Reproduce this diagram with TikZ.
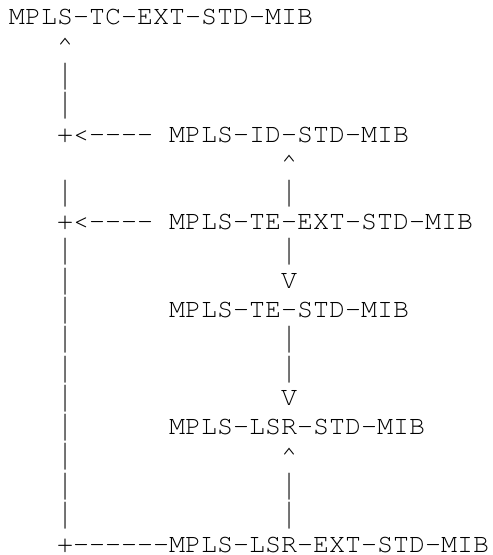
\documentclass[tikz,border=0pt]{standalone}
\usepackage{graphicx}
\usepackage{fontspec}
\newfontfamily\cour{texgyrecursor-regular.otf}[Ligatures=TeXOff]
\tikzset{
  txt/.style={anchor=base west, inner sep=0pt, outer sep=0pt, font=\cour\fontsize{26.67pt}{29pt}\selectfont, text=black}
}
% column c, row r
\newcommand\place[4]{\node[txt] (#1) at ({(9+16*#2)*1pt},{(530-29.28*#3)*1pt}) {#4};}
\newcommand\tallbar{\raisebox{-6.3pt}{\resizebox*{16pt}{26.8pt}{\raisebox{\depth}{|}}}}
\newcommand\vbar[3]{\node[txt] (#1) at ({(9+16*#2)*1pt},{(530-29.28*#3)*1pt}) {\tallbar};}
\begin{document}
\begin{tikzpicture}
\useasboundingbox (0,0) rectangle (493pt,555pt);
\place{tcext}{0}{0}{MPLS-TC-EXT-STD-MIB}
\place{a1}{3}{1}{\char94}
\vbar{a2}{3}{2}
\vbar{a3}{3}{3}
\place{a4}{3}{4}{+<----}
\place{idstd}{10}{4}{MPLS-ID-STD-MIB}
\place{b5}{17}{5}{\char94}
\vbar{a6}{3}{6}
\vbar{b6}{17}{6}
\place{a7}{3}{7}{+<----}
\place{teext}{10}{7}{MPLS-TE-EXT-STD-MIB}
\vbar{a8}{3}{8}
\vbar{b8}{17}{8}
\vbar{a9}{3}{9}
\place{b9}{17}{9}{V}
\vbar{a10}{3}{10}
\place{testd}{10}{10}{MPLS-TE-STD-MIB}
\vbar{a11}{3}{11}
\vbar{b11}{17}{11}
\vbar{a12}{3}{12}
\vbar{b12}{17}{12}
\vbar{a13}{3}{13}
\place{b13}{17}{13}{V}
\vbar{a14}{3}{14}
\place{lsrstd}{10}{14}{MPLS-LSR-STD-MIB}
\vbar{a15}{3}{15}
\place{b15}{17}{15}{\char94}
\vbar{a16}{3}{16}
\vbar{b16}{17}{16}
\vbar{a17}{3}{17}
\vbar{b17}{17}{17}
\place{a18}{3}{18}{+------}
\place{lsrext}{10}{18}{MPLS-LSR-EXT-STD-MIB}
\end{tikzpicture}
\end{document}
